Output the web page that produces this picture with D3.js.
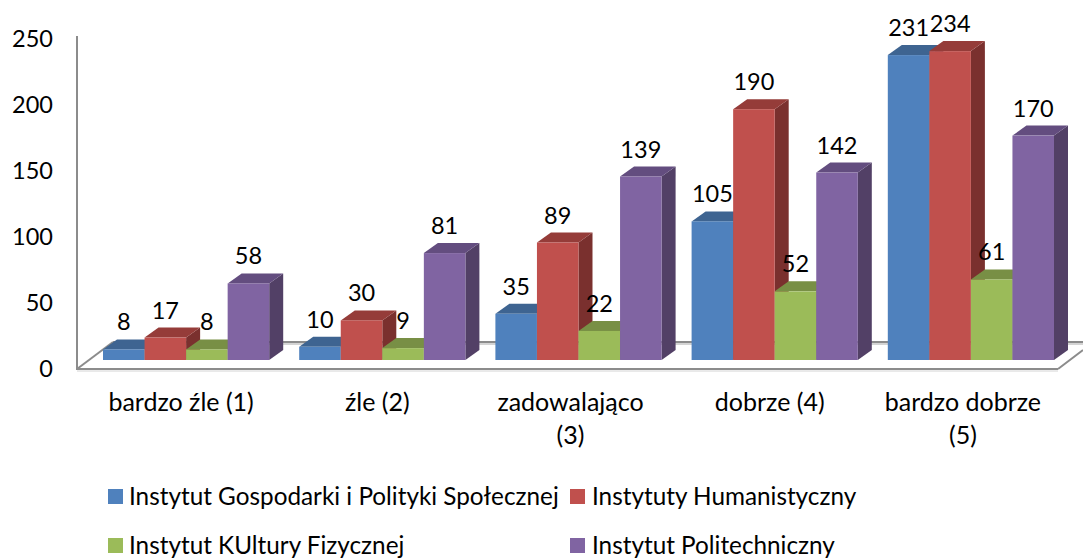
<!DOCTYPE html>
<html>
<head>
<meta charset="utf-8">
<script src="https://d3js.org/d3.v7.min.js"></script>
<style>
    body { margin: 0; background: #fff; }
    svg { display: block; }
    text { font-family: Lato, "Open Sans", sans-serif; fill: #000; }
    .y-axis text, .bar-label { font-size: 23.5px; }
    .x-axis text { font-size: 25px; }
    .legend text { font-size: 24.3px; }
</style>
</head>
<body>
<div id="chart"></div>
<script>
// data
let categories = ["bardzo źle (1)", "źle (2)", "zadowalająco\n(3)", "dobrze (4)", "bardzo dobrze\n(5)"]
let seriesNames = ["Instytut Gospodarki i Polityki Społecznej", "Instytuty Humanistyczny", "Instytut KUltury Fizycznej", "Instytut Politechniczny"]
let gospodarki = [8, 10, 35, 105, 231]
let humanistyczny = [17, 30, 89, 190, 234]
let kultury = [8, 9, 22, 52, 61]
let politechniczny = [58, 81, 139, 142, 170]
let yTicks = [0, 50, 100, 150, 200, 250]

let seriesValues = [gospodarki, humanistyczny, kultury, politechniczny]
let frontColors = ["#4f81bd", "#c0504d", "#9bbb59", "#8064a2"]
let topColors = ["#3e6491", "#953c39", "#788f45", "#634d7f"]
let sideColors = ["#345377", "#7a302e", "#627439", "#524066"]

const WIDTH = 1083, HEIGHT = 559
const DEPTH_X = 14, DEPTH_Y = 10   // 3d offset of the bars
const FLOOR_Y = 369, BAR_SHIFT_Y = 9, BAR_SHIFT_X = 5

let svg = d3.select("#chart").append("svg")
    .attr("width", WIDTH)
    .attr("height", HEIGHT)

// scales
let x = d3.scaleBand()
    .domain(categories)
    .range([83, 1064])
    .paddingInner(30 / 196.2)
    .paddingOuter(15 / 196.2)

let inner = d3.scaleBand()
    .domain(d3.range(4))
    .range([0, x.bandwidth()])

let y = d3.scaleLinear()
    .domain([0, 250])
    .range([FLOOR_Y, 39])

// floor and wall lines
let grid = svg.append("g").attr("fill", "none")
grid.append("path")
    .attr("d", "M113,344H1083")
    .attr("stroke", "#d4d4d4").attr("stroke-width", 2)
grid.append("path")
    .attr("d", "M113,342H1083M1058,369L1083,350")
    .attr("stroke", "#8c8c8c").attr("stroke-width", 2)
grid.append("path")
    .attr("d", "M77,369L113,342")
    .attr("stroke", "#8c8c8c").attr("stroke-width", 2)
grid.append("path")
    .attr("d", "M77,371H1058")
    .attr("stroke", "#d4d4d4").attr("stroke-width", 1)
grid.append("path")
    .attr("d", "M77,36V369H1058")
    .attr("stroke", "#8c8c8c").attr("stroke-width", 2)

// y axis
svg.append("g")
    .attr("class", "axis y-axis")
    .attr("transform", "translate(53,0)")
    .call(d3.axisLeft(y).tickValues(yTicks).tickSize(0).tickPadding(0))
    .call(g => g.select(".domain").remove())

// x axis
svg.append("g")
    .attr("class", "axis x-axis")
    .attr("transform", "translate(0,392)")
    .call(d3.axisBottom(x).tickSize(0).tickPadding(0))
    .call(g => g.select(".domain").remove())
    .selectAll(".tick text")
    .each(function(d) {
        let text = d3.select(this).text(null).attr("y", 0).attr("dy", null)
        let lines = d.split("\n")
        lines.forEach((line, i) => {
            // wrapped labels sit a little left of the tick
            text.append("tspan")
                .attr("x", lines.length > 1 ? -3 : 0)
                .attr("y", 19 + i * 33)
                .text(line)
        })
    })

// bars
let groups = svg.selectAll(".bar-group")
    .data(categories)
    .enter().append("g")
    .attr("class", "bar-group")
    .attr("transform", d => "translate(" + (x(d) + BAR_SHIFT_X) + "," + (-BAR_SHIFT_Y) + ")")

groups.each(function(cat, c) {
    let group = d3.select(this)
    seriesValues.forEach((values, s) => {
        let x0 = inner(s), x1 = x0 + inner.bandwidth()
        let y0 = y(values[c]), y1 = y(0)
        let bar = group.append("g").attr("class", "bar")

        bar.append("path")
            .attr("fill", sideColors[s])
            .attr("d", d3.line()([[x1, y0], [x1 + DEPTH_X, y0 - DEPTH_Y], [x1 + DEPTH_X, y1 - DEPTH_Y], [x1, y1]]) + "Z")
        bar.append("path")
            .attr("fill", topColors[s])
            .attr("d", d3.line()([[x0, y0], [x0 + DEPTH_X, y0 - DEPTH_Y], [x1 + DEPTH_X, y0 - DEPTH_Y], [x1, y0]]) + "Z")
        bar.append("rect")
            .attr("fill", frontColors[s])
            .attr("x", x0)
            .attr("y", y0)
            .attr("width", inner.bandwidth())
            .attr("height", y1 - y0)
    })
})

// value labels on top of everything
groups.each(function(cat, c) {
    let group = d3.select(this)
    seriesValues.forEach((values, s) => {
        group.append("text")
            .attr("class", "bar-label")
            .attr("text-anchor", "middle")
            .attr("x", inner(s) + inner.bandwidth() / 2)
            .attr("y", y(values[c]) - 19)
            .text(values[c])
    })
})

// legend
let legendX = [108, 570], legendY = [489, 538]
let legend = svg.selectAll(".legend")
    .data(seriesNames)
    .enter().append("g")
    .attr("class", "legend")
    .attr("transform", (d, i) => "translate(" + legendX[i % 2] + "," + legendY[Math.floor(i / 2)] + ")")

legend.append("rect")
    .attr("width", 15)
    .attr("height", 15)
    .attr("fill", (d, i) => frontColors[i])

legend.append("text")
    .attr("x", (d, i) => i % 2 ? 22 : 21)
    .attr("y", 16)
    .text(d => d)
</script>
</body>
</html>
